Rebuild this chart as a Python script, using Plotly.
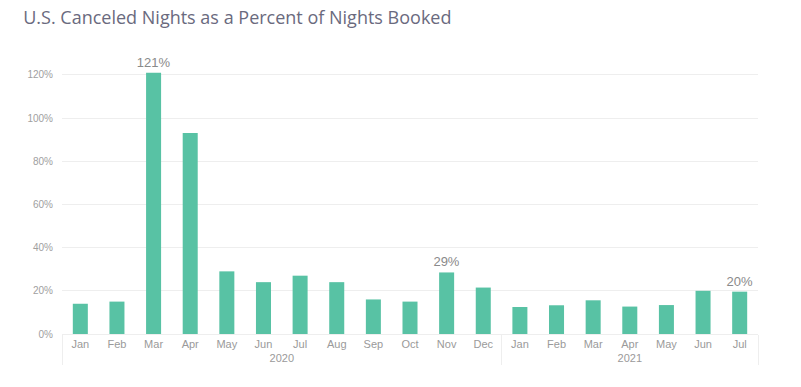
import plotly.graph_objects as go

years = ["2020"] * 12 + ["2021"] * 7
months = ["Jan", "Feb", "Mar", "Apr", "May", "Jun", "Jul", "Aug", "Sep", "Oct", "Nov", "Dec",
          "Jan", "Feb", "Mar", "Apr", "May", "Jun", "Jul"]
values = [14, 15, 121, 93, 29, 24, 27, 24, 16, 15, 28.5, 21.5,
          12.5, 13.3, 15.6, 12.7, 13.4, 20, 19.6]
labels = ["", "", "121%", "", "", "", "", "", "", "", "29%", "",
          "", "", "", "", "", "", "20%"]

fig = go.Figure(go.Bar(
    x=[years, months], y=values,
    marker=dict(color="#58C2A4", line=dict(width=0)),
    text=labels, textposition="outside", cliponaxis=False, constraintext="none",
    textfont=dict(family="Liberation Sans, Arial", size=13, color="#8a8a8a"),
    hoverinfo="skip",
))

fig.update_layout(
    width=801, height=387,
    margin=dict(l=62, r=43, t=64, b=53),
    paper_bgcolor="white", plot_bgcolor="white",
    bargap=0.59,
    showlegend=False,
    title=dict(text="U.S. Canceled Nights as a Percent of Nights Booked",
               x=0.029, xanchor="left", y=0.953, yanchor="middle",
               font=dict(family="Open Sans", size=18, color="#6a6a7e")),
    font=dict(family="Liberation Sans, Arial", size=10, color="#9a9a9a"),
)
fig.update_xaxes(
    type="multicategory", showgrid=False, showline=True, linecolor="#eeeeee",
    ticks="", showdividers=True, dividercolor="#eeeeee", dividerwidth=1,
    tickfont=dict(size=11, color="#9a9a9a"),
)
fig.update_yaxes(
    range=[0, 125], tickvals=[0, 20, 40, 60, 80, 100, 120],
    ticktext=["0%", "20%", "40%", "60%", "80%", "100%", "120%"],
    showgrid=True, gridcolor="#eeeeee", gridwidth=1, zeroline=False,
    tickfont=dict(size=10, color="#a0a0a0"), ticklabelstandoff=8,
)

fig.write_html("out.html", config={"displayModeBar": False},
               post_script="document.body.style.margin='0';")
